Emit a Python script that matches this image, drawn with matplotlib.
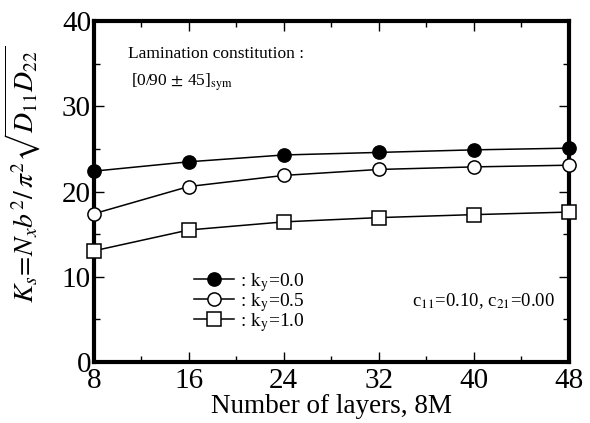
import matplotlib
matplotlib.use('Agg')
import matplotlib.pyplot as plt
from matplotlib.ticker import MultipleLocator

plt.rcParams.update({
    'font.family': ['Liberation Serif', 'DejaVu Serif'],
    'mathtext.fontset': 'stix',
    'font.size': 13,
})

# buckling coefficient vs. number of layers
layers = [8, 16, 24, 32, 40, 48]
ks_ky00 = [22.4, 23.5, 24.3, 24.6, 24.9, 25.1]
ks_ky05 = [17.4, 20.6, 21.9, 22.6, 22.9, 23.1]
ks_ky10 = [13.05, 15.5, 16.45, 16.95, 17.3, 17.6]
labels = [': $\\mathrm{k_y}$=0.0', ': $\\mathrm{k_y}$=0.5', ': $\\mathrm{k_y}$=1.0']

fig = plt.figure(figsize=(5.9, 4.23), dpi=100)
ax = fig.add_axes([0.159, 0.144, 0.805, 0.806])

common = dict(color='black', lw=1.1, markersize=9.5, markeredgewidth=1.1,
              clip_on=False, zorder=5)
ax.plot(layers, ks_ky00, marker='o', mfc='black', label=labels[0], **common)
ax.plot(layers, ks_ky05, marker='o', mfc='white', label=labels[1], **common)
ax.plot(layers, ks_ky10, marker='s', mfc='white', label=labels[2], **common)

ax.set_xlim(8, 48)
ax.set_ylim(0, 40)
ax.xaxis.set_major_locator(MultipleLocator(8))
ax.xaxis.set_minor_locator(MultipleLocator(4))
ax.yaxis.set_major_locator(MultipleLocator(10))
ax.yaxis.set_minor_locator(MultipleLocator(5))
ax.tick_params(which='both', direction='in', top=True, right=True,
               width=1.0, labelsize=21)
ax.tick_params(which='major', length=7, pad=2)
ax.tick_params(axis='x', which='major', pad=4)
ax.tick_params(which='minor', length=4)
for sp in ax.spines.values():
    sp.set_linewidth(3.0)

ax.set_xlabel('Number of layers, 8M', fontsize=19.5, labelpad=0)
ax.set_ylabel(r'$K_s\!=\!N_x b^2/\,\pi^2\sqrt{D_{11}D_{22}}$', fontsize=20)
ax.yaxis.set_label_coords(-0.108, 0.55)

ax.text(0.072, 0.905, 'Lamination constitution :', transform=ax.transAxes,
        fontsize=12.5, va='center', ha='left')
ax.text(0.078, 0.822, r'[0/90$\,\pm\,$45]$_{\mathrm{sym}}$', transform=ax.transAxes,
        fontsize=12.5, va='center', ha='left')
ax.text(0.67, 0.18, r'c$_{11}$=0.10, c$_{21}$=0.00', transform=ax.transAxes,
        fontsize=13.5, va='center', ha='left')

ax.legend(loc='upper left', bbox_to_anchor=(0.21, 0.27), frameon=False,
          fontsize=14, handlelength=2.1, handletextpad=0.3,
          labelspacing=-0.2, borderpad=0, borderaxespad=0)

fig.savefig('out.png', dpi=100)
